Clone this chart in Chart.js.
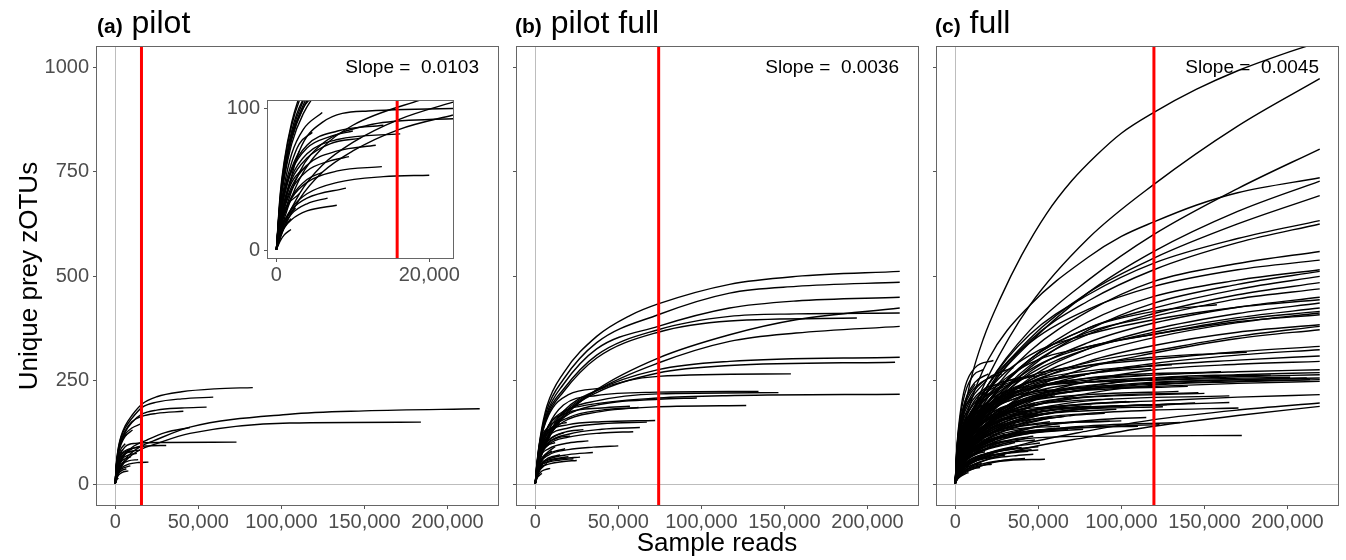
<!DOCTYPE html>
<html lang="en">
<head>
<meta charset="UTF-8">
<title>rarefaction curves</title>
<script src="https://cdn.jsdelivr.net/npm/chart.js@4.4.1/dist/chart.umd.min.js"></script>
<style>
body{margin:0;background:#fff;font-family:"Liberation Sans",Arial,Helvetica,sans-serif;}
#wrap{position:relative;width:1346px;height:560px;overflow:hidden;background:#fff;}
canvas{position:absolute;}
.ttl{position:absolute;top:6px;font-size:32px;line-height:32px;color:#000;white-space:pre;}
.ttl b{font-size:21px;}
#ylab{position:absolute;left:-172px;top:263px;width:400px;height:26px;line-height:26px;font-size:26px;text-align:center;transform:rotate(-90deg);}
#xlab{position:absolute;left:517px;top:529px;width:400px;line-height:26px;font-size:26px;text-align:center;}
</style>
</head>
<body>
<div id="wrap">
	<canvas id="pa" width="510" height="560" style="left:0;top:0"></canvas>
	<canvas id="pb" width="510" height="560" style="left:420px;top:0"></canvas>
	<canvas id="pc" width="506" height="560" style="left:840px;top:0"></canvas>
	<canvas id="inset" width="262" height="200" style="left:200px;top:85px"></canvas>
	<div class="ttl" style="left:97px"><b>(a)</b> pilot</div>
	<div class="ttl" style="left:515px"><b>(b)</b> pilot full</div>
	<div class="ttl" style="left:935px"><b>(c)</b> full</div>
	<div id="ylab">Unique prey zOTUs</div>
	<div id="xlab">Sample reads</div>
</div>

<script>
// each curve: [thousand reads, zOTUs, thousand reads, zOTUs, ...]
var pilotCurves=[
	[0,1, 0.5,40, 1,62, 2,90, 3.5,115, 6,140, 10,165, 16,192, 25,210, 40,222, 60,229, 82.8,232],
	[0,1, 0.5,38, 1,60, 2,88, 3.5,112, 6,135, 10,158, 16,184, 25,197, 40,205, 59,209],
	[0,1, 0.5,35, 1,55, 2,80, 3.5,102, 6,125, 10,148, 16,168, 25,178, 40,183, 55,185],
	[0,1, 0.5,35, 1,56, 2,82, 3.5,105, 6,128, 10,150, 16,163, 25,170, 41,175],
	[0,1, 1,18, 3,40, 6,60, 10,76, 16,92, 23,104, 45,137, 105,168, 150,176, 219.4,181],
	[0,1, 1,16, 3,36, 6,55, 10,70, 16,85, 23,95, 45,122, 105,147, 184,149],
	[0,1, 1,30, 3,70, 6,90, 12,98, 30,100, 73,101],
	[0,1, 1,25, 3,55, 6,75, 12,88, 20,92, 30.7,93],
	[0,1, 1,22, 3,50, 6,72, 10,88, 19,106, 30,124, 45,136],
	[0,1, 0.5,33, 1,52, 2,78, 3.5,100, 6,120, 10,135, 15,144],
	[0,1, 0.5,32, 1,50, 2,75, 3.5,96, 6,115, 10.4,130],
	[0,1, 0.5,36, 1,56, 2,84, 3.5,106, 7,120],
	[0,1, 0.5,34, 1,54, 2,80, 3.5,100, 5,110],
	[0,1, 0.5,28, 1,45, 2,68, 3.5,85, 6,97],
	[0,1, 0.5,22, 1,38, 2,57, 4,74, 8,84, 14,88],
	[0,1, 0.5,20, 1,34, 2,52, 4,68, 8,78, 16.2,82],
	[0,1, 0.5,26, 1,42, 2,62, 3,75, 4.7,83],
	[0,1, 0.5,20, 1,33, 2,50, 4,65, 7,75, 11,79],
	[0,1, 0.5,18, 1,30, 2,45, 4,60, 8,70, 13,74],
	[0,1, 0.5,18, 1,29, 2,43, 4,56, 7,63, 9.5,66],
	[0,1, 0.5,15, 1,25, 2,37, 4,48, 8,56, 13.8,59],
	[0,1, 0.5,12, 1,20, 2,30, 4,40, 8,48, 14,52, 20,53],
	[0,1, 0.5,12, 1,20, 2,29, 4,37, 9.1,44],
	[0,1, 0.5,11, 1,18, 2,26, 4,33, 6.7,37],
	[0,1, 0.5,10, 1,16, 2,22, 4,28, 7.9,32],
	[0,1, 0.5,10, 1,16, 1.9,22.6],
	[0,1, 0.5,7, 1,11, 1.9,15],
	[0,1, 0.5,14, 1,21, 2.5,30],
	[0,1, 0.5,18, 1,28, 3,40],
	[0,1, 0.5,30, 1.5,50],
	[0,1, 0.5,20, 1,33, 2,48, 4,60],
	[0,1, 0.5,25, 1,40, 2,58, 3,70],
	[0,1, 0.5,16, 1,26, 2,38, 4,50, 6,55],
	[0,1, 0.5,24, 1,38, 2,56, 4,72, 7,80, 10,84]
];

var pilotFullCurves=[
	[0,1, 1,50, 3,112, 7,187, 17,267, 37,355, 57,405, 74,433, 117,480, 157,499, 219.4,511],
	[0,1, 1,48, 3,108, 7,178, 17,252, 37,340, 74,407, 117,459, 157,475, 219.4,485],
	[0,1, 1,46, 3,104, 7,170, 17,240, 37,325, 74,379, 117,423, 157,440, 219.4,449],
	[0,1, 1,25, 3,60, 8,110, 17,160, 37,227, 74,303, 117,359, 157,395, 219.4,423],
	[0,1, 1,45, 3,100, 7,165, 17,228, 37,310, 74,371, 117,403, 157,409, 219.4,411],
	[0,1, 1,45, 3,100, 7,160, 17,222, 37,303, 74,365, 117,392, 193.6,399],
	[0,1, 1,26, 3,62, 8,110, 17,165, 37,225, 74,291, 117,343, 157,363, 219.4,379],
	[0,1, 1,28, 3,66, 8,115, 17,170, 37,225, 74,275, 117,295, 219.4,305],
	[0,1, 1,28, 3,65, 8,112, 17,165, 37,220, 74,267, 117,285, 216.6,293],
	[0,1, 1,30, 3,68, 8,118, 17,175, 37,225, 74,259, 153.9,265],
	[0,1, 1,35, 3,85, 8,140, 17,175, 27,187, 74,207, 120,213, 219.4,216],
	[0,1, 1,32, 3,78, 8,130, 17,172, 37,200, 74,217, 146.4,220],
	[0,1, 1,33, 3,80, 8,140, 17,190, 37,213, 74,221, 134.4,223],
	[0,1, 1,30, 3,70, 8,115, 17,150, 37,173, 74,186, 127,189],
	[0,1, 1,30, 3,72, 8,120, 17,160, 37,190, 74,204, 97.3,207],
	[0,1, 1,35, 3,90, 8,125, 20,143, 40,150, 72.2,153],
	[0,1, 1,33, 3,80, 8,115, 20,135, 40,145, 67.2,149],
	[0,1, 1,32, 3,78, 8,125, 20,160, 40,178, 62.2,184],
	[0,1, 1,30, 3,70, 8,100, 20,120, 40,132, 63,136],
	[0,1, 1,28, 3,65, 8,95, 20,113, 40,123, 59,126],
	[0,1, 1,22, 3,50, 8,70, 20,83, 35,89, 50,92],
	[0,1, 1,30, 3,65, 8,85, 20,99, 32,104],
	[0,1, 1,20, 3,45, 8,60, 20,71, 34.7,76],
	[0,1, 1,20, 3,42, 8,55, 17,62, 27,65],
	[0,1, 1,18, 3,38, 8,48, 16,54, 25,57],
	[0,1, 1,20, 3,42, 8,53, 15,58, 23,61],
	[0,1, 1,15, 3,28, 6,35, 9,38],
	[0,1, 1,14, 2.5,21, 4,26],
	[0,1, 1,40, 3,100, 8,165, 20,215, 41,231],
	[0,1, 1,35, 3,85, 8,140, 20,172, 40,183, 57,187],
	[0,1, 1,30, 3,68, 8,98, 14,112, 21,115],
	[0,1, 1,32, 3,75, 8,105, 13,118, 17,123],
	[0,1, 1,30, 3,72, 8,105, 18,125, 29,131],
	[0,1, 1,38, 3,95, 8,130, 13,143, 19,148],
	[0,1, 1,40, 3,100, 8,138, 15,156],
	[0,1, 1,25, 3,55, 7,75, 12,90],
	[0,1, 1,24, 3,52, 6,68, 10,80],
	[0,1, 1,20, 3,45, 8,63, 15,70],
	[0,1, 1,17, 3,35, 5,43, 7,50],
	[0,1, 1,18, 3,38, 5,45],
	[0,1, 1,30, 3,70, 7,92, 12,100],
	[0,1, 1,35, 3,85, 6,110],
	[0,1, 1,40, 2.5,95, 4,120],
	[0,1, 1,38, 3,95, 6,125, 10,135],
	[0,1, 1,25, 3,55, 7,72, 11,78, 18,85],
	[0,1, 1,20, 3,43, 6,55, 10,60, 20,66]
];

var fullCurves=[
	// long samples
	[0,1, 1,55, 3,120, 9,245, 17,350, 27,445, 40,550, 55,650, 70,728, 85,790, 100,843, 119.6,893, 145,948, 170,993, 195,1030, 219.4,1062],
	[0,1, 1,35, 3,80, 8,150, 20,260, 45,430, 80,590, 119.6,720, 170,860, 219.4,974],
	[0,1, 1,33, 3,75, 8,140, 20,240, 45,370, 80,490, 119.6,600, 170,710, 219.4,805],
	[0,1, 1,40, 3,95, 8,180, 20,300, 45,430, 80,545, 100,595, 119.6,630, 145,670, 170,700, 219.4,736],
	[0,1, 1,30, 3,70, 8,130, 20,225, 45,340, 80,460, 119.6,559, 170,655, 219.4,728],
	[0,1, 1,32, 3,72, 8,135, 20,230, 45,350, 80,460, 119.6,543, 170,625, 219.4,693],
	[0,1, 1,35, 3,80, 8,145, 20,240, 45,360, 80,455, 119.6,531, 170,590, 219.4,633],
	[0,1, 1,33, 3,75, 8,135, 20,225, 45,345, 80,440, 119.6,515, 170,580, 219.4,625],
	[0,1, 1,30, 3,70, 8,125, 20,210, 45,320, 80,415, 119.6,487, 170,530, 219.4,559],
	[0,1, 1,38, 3,85, 8,150, 20,240, 45,340, 80,420, 119.6,475, 170,515, 219.4,538],
	[0,1, 1,28, 3,65, 8,118, 20,195, 45,300, 80,390, 119.6,451, 170,490, 219.4,515],
	[0,1, 1,26, 3,60, 8,108, 20,180, 45,280, 80,370, 119.6,435, 170,480, 219.4,511],
	[0,1, 1,30, 3,68, 8,120, 20,200, 45,300, 80,375, 119.6,423, 170,468, 219.4,499],
	[0,1, 1,28, 3,64, 8,112, 20,185, 45,285, 80,360, 119.6,410, 170,455, 219.4,484],
	[0,1, 1,32, 3,72, 8,125, 20,200, 45,295, 80,365, 119.6,403, 170,445, 219.4,469],
	[0,1, 1,25, 3,58, 8,105, 20,175, 45,270, 80,340, 119.6,387, 170,425, 219.4,449],
	[0,1, 1,35, 3,80, 8,140, 20,225, 45,310, 80,360, 119.6,395, 170,425, 219.4,443],
	[0,1, 1,24, 3,55, 8,100, 20,165, 45,255, 80,325, 119.6,372, 170,410, 219.4,435],
	[0,1, 1,28, 3,64, 8,112, 20,180, 45,265, 80,325, 119.6,365, 170,400, 219.4,423],
	[0,1, 1,30, 3,68, 8,118, 20,190, 45,275, 80,330, 119.6,360, 170,395, 219.4,415],
	[0,1, 1,26, 3,60, 8,105, 20,170, 45,250, 80,310, 119.6,352, 170,388, 219.4,411],
	[0,1, 1,36, 3,82, 8,140, 20,215, 45,290, 80,330, 119.6,360, 170,390, 219.4,407],
	[0,1, 1,25, 3,58, 8,102, 20,165, 45,240, 80,295, 119.6,333, 170,365, 219.4,383],
	[0,1, 1,30, 3,68, 8,115, 20,180, 45,250, 80,292, 119.6,320, 170,355, 219.4,379],
	[0,1, 1,22, 3,50, 8,90, 20,150, 45,225, 80,280, 119.6,315, 170,350, 219.4,371],
	[0,1, 1,34, 3,78, 8,132, 20,200, 45,260, 80,285, 119.6,300, 170,318, 219.4,331],
	[0,1, 1,22, 3,50, 8,90, 20,150, 45,220, 80,265, 119.6,290, 170,310, 219.4,323],
	[0,1, 1,30, 3,68, 8,115, 20,175, 45,235, 80,265, 119.6,285, 170,298, 219.4,308],
	[0,1, 1,20, 3,46, 8,84, 20,140, 45,205, 80,248, 119.6,275, 170,288, 219.4,295],
	[0,1, 1,32, 3,72, 8,120, 20,180, 45,230, 80,250, 119.6,262, 170,270, 219.4,275],
	[0,1, 1,24, 3,55, 8,96, 20,150, 45,205, 80,235, 119.6,255, 170,263, 219.4,268],
	[0,1, 1,38, 3,85, 8,140, 20,200, 45,235, 80,245, 119.6,250, 170,258, 219.4,263],
	[0,1, 1,28, 3,62, 8,105, 20,160, 45,210, 80,232, 119.6,245, 170,251, 219.4,255],
	[0,1, 1,20, 3,45, 8,80, 20,130, 45,185, 80,218, 119.6,238, 170,246, 219.4,251],
	[0,1, 1,34, 3,78, 8,128, 20,185, 45,220, 80,230, 119.6,235, 170,242, 219.4,247],
	[0,1, 1,22, 3,50, 8,86, 20,135, 45,175, 80,192, 119.6,200, 170,209, 219.4,215],
	[0,1, 1,12, 3,26, 8,45, 20,70, 45,100, 80,128, 119.6,155, 170,178, 219.4,195],
	[0,1, 1,10, 3,22, 8,38, 20,60, 45,88, 80,113, 119.6,139, 170,165, 219.4,187],
	// medium samples
	[0,1, 1,28, 3,62, 8,105, 20,160, 45,205, 80,228, 119.6,240, 170,248, 213.6,251],
	[0,1, 1,25, 3,56, 8,96, 20,150, 45,200, 80,228, 119.6,243, 170,251, 211.6,255],
	[0,1, 1,35, 3,80, 8,130, 20,190, 45,230, 80,245, 119.6,250, 201.6,257],
	[0,1, 1,30, 3,68, 8,115, 20,180, 45,245, 80,285, 119.6,305, 175.5,317],
	[0,1, 1,20, 3,45, 8,78, 20,120, 45,155, 80,170, 119.6,178, 170.5,183],
	[0,1, 1,22, 3,45, 8,70, 20,95, 45,110, 80,115, 172.5,117],
	[0,1, 1,30, 3,70, 8,122, 20,200, 45,300, 80,375, 119.6,415, 157.5,431],
	[0,1, 1,26, 3,58, 8,98, 20,150, 45,192, 80,210, 146.4,220],
	[0,1, 1,18, 3,42, 8,75, 20,120, 45,160, 80,182, 144.4,195],
	[0,1, 1,16, 3,36, 8,62, 20,95, 45,125, 80,140, 135.4,148],
	[0,1, 1,32, 3,72, 8,125, 20,190, 45,245, 80,272, 130.4,287],
	[0,1, 1,24, 3,54, 8,92, 20,138, 45,172, 80,185, 127.4,191],
	[0,1, 1,20, 3,44, 8,72, 20,105, 45,127, 80,136, 110,139],
	[0,1, 1,24, 3,52, 8,85, 20,120, 45,142, 93,151],
	[0,1, 1,30, 3,68, 8,112, 20,155, 45,178, 82,187],
	[0,1, 1,18, 3,40, 8,68, 20,100, 45,122, 77,132],
	[0,1, 1,25, 3,55, 8,90, 20,120, 40,134, 63,139],
	[0,1, 1,12, 3,20, 9,34, 27,55, 54,60],
	[0,1, 1,14, 3,30, 8,50, 20,72, 35,84, 50,90],
	[0,1, 1,14, 3,27, 8,42, 20,60, 35,68, 47,72],
	[0,1, 1,16, 3,32, 8,52, 20,68, 44,79],
	[0,1, 1,30, 3,70, 8,115, 20,160, 40,180, 61,187],
	[0,1, 1,90, 3,170, 6,235, 12,280, 23,297],
	[0,1, 1,85, 3,160, 6,220, 11,262, 17,275],
	[0,1, 1,70, 3,140, 6,200, 12,245, 20,265],
	[0,1, 1,28, 3,62, 8,105, 20,160, 45,200, 80,215, 134.4,223],
	[0,1, 1,22, 3,50, 8,85, 20,130, 45,168, 80,184, 132.4,192],
	[0,1, 1,20, 3,42, 8,70, 20,102, 45,125, 80,137, 123,143],
	[0,1, 1,26, 3,58, 8,98, 20,145, 45,178, 80,193, 103,199],
	[0,1, 1,24, 3,54, 8,92, 20,138, 45,165, 97,180],
	[0,1, 1,20, 3,44, 8,74, 20,105, 45,124, 67,131],
	[0,1, 1,14, 3,30, 8,48, 20,66, 35,77, 50,82],
	[0,1, 1,40, 3,75, 15,140, 40,185, 70,200, 95,205],
	[0,1, 1,35, 3,65, 15,125, 40,170, 70,190, 105,198],
	[0,1, 1,45, 3,85, 15,160, 40,210, 70,230, 100,238],
	[0,1, 1,30, 3,55, 15,105, 40,145, 70,165, 90,170],
	[0,1, 1,50, 3,90, 15,170, 40,225, 70,250, 115,262],
	[0,1, 1,38, 3,70, 15,135, 40,180, 70,205, 120,215, 150,218],
	[0,1, 1,42, 3,78, 15,150, 40,200, 70,222, 140,235],
	[0,1, 1,28, 3,50, 15,98, 40,132, 70,148, 100,152],
	[0,1, 1,33, 3,60, 15,115, 40,158, 70,178, 125,186],
	[0,1, 1,48, 3,88, 15,165, 40,220, 80,255, 160,270],
	[0,1, 1,36, 3,66, 15,128, 40,172, 80,200, 165,212],
	[0,1, 1,44, 3,80, 15,155, 40,212, 80,245, 140,258],
	[0,1, 1,35, 3,62, 20,120, 50,165, 90,185, 130,192, 165,196],
	[0,1, 1,28, 3,50, 20,100, 50,138, 90,156, 115,160],
	[0,1, 1,55, 3,100, 20,190, 50,245, 90,270, 118,278],
	[0,1, 1,45, 3,80, 20,160, 50,215, 100,245, 150,258, 190,262],
	// short samples
	[0,1, 1,30, 2,42, 3.5,53, 5,60],
	[0,1, 1,42, 2,60, 4,80, 6,90],
	[0,1, 1,55, 2,80, 4,105, 7,120],
	[0,1, 1,65, 2,95, 4,128, 8,150],
	[0,1, 1,75, 2,110, 4,150, 9,180],
	[0,1, 1,80, 2,120, 5,175, 10,210],
	[0,1, 1,85, 3,150, 6,200, 12,240],
	[0,1, 1,18, 3,32, 5,40, 8,45],
	[0,1, 1,28, 3,48, 6,62, 10,70],
	[0,1, 1,38, 3,65, 7,88, 12,100],
	[0,1, 1,45, 3,80, 8,115, 14,130],
	[0,1, 1,52, 3,95, 8,138, 15,160],
	[0,1, 1,60, 3,110, 8,160, 16,190],
	[0,1, 1,65, 3,120, 9,180, 18,220],
	[0,1, 1,72, 3,135, 9,200, 19,250],
	[0,1, 1,20, 3,35, 7,48, 12,55],
	[0,1, 1,28, 3,50, 8,72, 15,85],
	[0,1, 1,35, 3,62, 9,95, 18,115],
	[0,1, 1,40, 3,75, 10,118, 20,140],
	[0,1, 1,48, 3,88, 10,140, 22,170],
	[0,1, 1,55, 3,100, 10,160, 24,200],
	[0,1, 1,60, 3,110, 10,178, 26,230],
	[0,1, 1,16, 3,28, 8,42, 16,50],
	[0,1, 1,22, 3,38, 10,62, 20,75],
	[0,1, 1,30, 3,52, 10,82, 24,105],
	[0,1, 1,34, 3,60, 10,95, 27,125],
	[0,1, 1,40, 3,70, 12,115, 30,150],
	[0,1, 1,45, 3,82, 12,135, 32,180],
	[0,1, 1,50, 3,90, 12,150, 35,210],
	[0,1, 1,18, 3,32, 10,52, 22,65],
	[0,1, 1,25, 3,44, 12,75, 28,95],
	[0,1, 1,30, 3,54, 12,90, 33,120],
	[0,1, 1,35, 3,62, 14,108, 36,145],
	[0,1, 1,40, 3,72, 15,125, 40,170],
	[0,1, 1,45, 3,80, 15,140, 43,200],
	[0,1, 1,55, 3,95, 15,165, 45,240],
	[0,1, 1,18, 3,32, 12,55, 30,70],
	[0,1, 1,24, 3,42, 14,75, 36,100],
	[0,1, 1,30, 3,52, 15,92, 40,128],
	[0,1, 1,35, 3,60, 16,108, 46,155],
	[0,1, 1,38, 3,66, 18,120, 52,175],
	[0,1, 1,45, 3,78, 18,140, 55,215],
	[0,1, 1,22, 3,38, 14,65, 38,88],
	[0,1, 1,26, 3,45, 16,80, 44,112],
	[0,1, 1,32, 3,55, 18,100, 50,140],
	[0,1, 1,35, 3,60, 20,112, 58,162],
	[0,1, 1,36, 3,64, 20,118, 45,150, 66,163],
	[0,1, 1,40, 3,70, 20,130, 50,172, 75,187],
	[0,1, 1,55, 3,95, 20,175, 45,228, 62,247],
	[0,1, 1,45, 3,80, 20,145, 50,192, 70,205],
	[0,1, 1,48, 3,85, 20,155, 50,208, 85,230],
	[0,1, 1,28, 3,48, 20,95, 45,122, 68,131],
	[0,1, 1,34, 3,58, 20,110, 40,140, 57,150],
	[0,1, 1,22, 3,38, 18,72, 35,90, 51,99],
	[0,1, 1,26, 3,45, 18,85, 35,108, 47,115],
	[0,1, 1,20, 3,34, 16,62, 32,77, 46,83],
	[0,1, 1,15, 3,26, 14,46, 28,57, 42,62],
	[0,1, 1,38, 3,65, 20,125, 40,158, 59,171],
	[0,1, 1,80, 3,150, 8,210, 16,245, 28,265],
	[0,1, 1,75, 3,140, 10,215, 20,255, 35,280],
	[0,1, 1,60, 3,100, 7,125, 14,140],
	[0,1, 1,65, 3,115, 8,148, 18,170],
	[0,1, 1,50, 3,92, 10,145, 25,185],
	[0,1, 1,62, 3,112, 12,185, 25,230, 40,255],
	[0,1, 1,60, 3,105, 15,190, 35,245, 55,265],
	[0,1, 1,48, 3,80, 6,98, 11,110],
	[0,1, 1,32, 3,55, 10,82, 20,100],
	[0,1, 1,32, 3,56, 12,92, 30,120],
	[0,1, 1,44, 3,78, 16,135, 32,175, 48,195],
	[0,1, 1,55, 3,98, 12,160, 25,205, 38,225],
	[0,1, 1,26, 3,48, 14,90, 35,122, 60,134],
	[0,1, 1,40, 3,72, 14,140, 35,190, 60,212],
	[0,1, 1,52, 3,95, 14,175, 35,232, 60,255, 78,262],
	[0,1, 1,30, 3,56, 14,108, 35,148, 58,160],
	[0,1, 1,46, 3,84, 14,160, 35,210, 55,228],
	[0,1, 1,22, 3,40, 12,72, 30,98, 48,106],
	[0,1, 1,34, 3,62, 12,118, 30,158, 50,172],
	[0,1, 1,58, 3,105, 12,190, 30,245, 48,262],
	[0,1, 1,20, 3,36, 10,60, 25,80, 40,88],
	[0,1, 1,38, 3,70, 10,122, 25,165, 40,180],
	[0,1, 1,64, 3,115, 10,190, 25,240, 36,252],
	[0,1, 1,24, 3,44, 10,72, 25,98, 34,104],
	[0,1, 1,42, 3,78, 10,132, 25,178, 33,188],
	[0,1, 1,18, 3,32, 10,54, 22,70, 30,74],
	[0,1, 1,32, 3,58, 10,100, 22,135, 30,145],
	[0,1, 1,70, 3,125, 8,185, 18,230, 26,240],
	[0,1, 1,26, 3,46, 8,70, 18,92, 25,98],
	[0,1, 1,50, 3,90, 8,135, 18,172, 24,180],
	[0,1, 1,14, 3,24, 8,36, 16,45, 22,48],
	[0,1, 1,36, 3,64, 8,98, 16,122, 21,128],
	[0,1, 1,58, 3,105, 8,155, 16,188, 20,195],
	[0,1, 1,24, 3,42, 7,60, 14,74, 18,78],
	[0,1, 1,46, 3,82, 7,115, 13,138, 16,143],
	[0,1, 1,12, 3,22, 7,32, 12,38, 15,40],
	[0,1, 1,30, 3,54, 7,78, 11,90, 13,93],
	[0,1, 1,62, 3,112, 6,150, 10,172, 12,178],
	[0,1, 1,20, 3,35, 6,47, 9,54, 10,55],
	[0,1, 1,40, 3,72, 6,95, 9,108],
	[0,1, 1,10, 3,18, 6,25, 8,28],
	[0,1, 1,52, 2,78, 4,100, 6,112],
	[0,1, 1,25, 2,38, 4,50, 5,54]
];

// rarefaction cut-off (reads) and slope label per panel
var cutoffs=[15800,74300,119600];
var slopes=["Slope =  0.0103","Slope =  0.0036","Slope =  0.0045"];
var xTicks=[0,50000,100000,150000,200000];
var yTicks=[0,250,500,750,1000];
var insetXTicks=[0,20000];
var insetYTicks=[0,100];

var FONT='"Liberation Sans", Arial, Helvetica, sans-serif';
var GREY='#4d4d4d';

function toPts(c){
	var p=[];
	for(var i=0;i<c.length;i+=2) p.push({x:c[i]*1000,y:c[i+1]});
	return p;
}

var frame={
	id:'frame',
	beforeDatasetsDraw:function(chart,args,o){
		if(!o.fill) return;
		var a=chart.chartArea,c=chart.ctx;
		c.save();c.fillStyle='#fff';c.fillRect(a.left,a.top,a.right-a.left,a.bottom-a.top);c.restore();
	},
	afterDraw:function(chart,args,o){
		var a=chart.chartArea,c=chart.ctx;
		c.save();
		c.strokeStyle='#666';c.lineWidth=1;
		c.strokeRect(Math.round(a.left)-0.5,Math.round(a.top)-0.5,Math.round(a.right-a.left)+1,Math.round(a.bottom-a.top)+1);
		if(o.text){
			c.font='19px '+FONT;c.fillStyle='#000';c.textAlign='right';c.textBaseline='middle';
			c.fillText(o.text,a.right-19,a.top+21);
		}
		c.restore();
	}
};

function setTicks(list){
	return function(s){ s.ticks=list.map(function(v){return {value:v};}); };
}

function makeChart(id,curves,cut,o){
	var ds=curves.map(function(c){
		return {data:toPts(c),borderColor:'#000',borderWidth:1.4,pointRadius:0,fill:false,
			cubicInterpolationMode:'monotone',order:1};
	});
	ds.push({data:[{x:cut,y:-500},{x:cut,y:2000}],borderColor:'#ff0000',borderWidth:3,
		pointRadius:0,fill:false,order:0,clip:0});

	var zeroGrid=function(ctx){
		return (o.zero && ctx.tick && ctx.tick.value===0) ? '#bdbdbd' : 'rgba(0,0,0,0)';
	};

	return new Chart(document.getElementById(id),{
		type:'line',
		data:{datasets:ds},
		plugins:[frame],
		options:{
			responsive:false,animation:false,events:[],
			layout:{padding:o.pad},
			plugins:{legend:{display:false},tooltip:{enabled:false},frame:{text:o.text,fill:o.fill}},
			scales:{
				x:{type:'linear',min:o.xmin,max:o.xmax,
					afterBuildTicks:setTicks(o.xt),
					afterFit:function(s){s.height=o.xh;},
					border:{display:false},
					grid:{color:zeroGrid,tickColor:'#555',tickLength:4,lineWidth:1},
					ticks:{autoSkip:false,maxRotation:0,padding:1,color:GREY,font:{family:FONT,size:20},
						callback:function(v){return v.toLocaleString('en-US');}}
				},
				y:{type:'linear',min:o.ymin,max:o.ymax,
					afterBuildTicks:setTicks(o.yt),
					afterFit:function(s){s.width=o.yw;},
					border:{display:false},
					grid:{color:zeroGrid,tickColor:'#555',tickLength:4,lineWidth:1},
					ticks:{padding:4,color:GREY,font:{family:FONT,size:20},
						callback:function(v){return o.ylabels ? String(v) : '';}}
				}
			}
		}
	});
}

var main={xmin:-10970,xmax:230400,ymin:-50,ymax:1050,xt:xTicks,yt:yTicks,xh:55,yw:97,zero:true,fill:false};

makeChart('pa',pilotCurves,cutoffs[0],Object.assign({},main,{pad:{left:0,top:47,right:12,bottom:0},text:slopes[0],ylabels:true}));
makeChart('pb',pilotFullCurves,cutoffs[1],Object.assign({},main,{pad:{left:0,top:47,right:12,bottom:0},text:slopes[1],ylabels:false}));
makeChart('pc',fullCurves,cutoffs[2],Object.assign({},main,{pad:{left:0,top:47,right:8,bottom:0},text:slopes[2],ylabels:false}));

// zoomed view of the pilot panel
makeChart('inset',pilotCurves,cutoffs[0],{xmin:-1100,xmax:23100,ymin:-5,ymax:105,xt:insetXTicks,yt:insetYTicks,
	xh:27,yw:68,zero:false,fill:true,pad:{left:0,top:8,right:9,bottom:0},text:'',ylabels:true});
</script>
</body>
</html>
